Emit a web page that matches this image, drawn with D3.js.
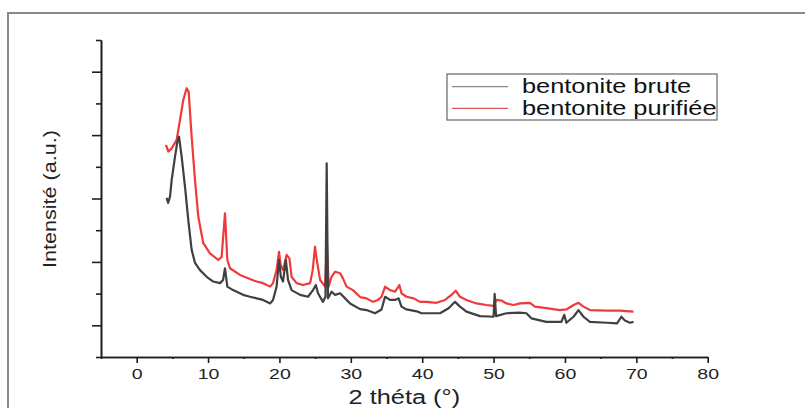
<!DOCTYPE html>
<html>
<head>
<meta charset="utf-8">
<script src="https://cdn.jsdelivr.net/npm/d3@7"></script>
<style>
  body { margin: 0; background: #fff; }
  svg { display: block; font-family: "Liberation Sans", Arial, sans-serif; }
</style>
</head>
<body>
<div id="chart"></div>
<script>
// values (2 theta in degrees, intensity in arbitrary units)
var bruteTheta = [4.2, 4.4, 4.67, 4.9, 5.37, 5.7, 5.93, 6.3, 6.77, 7.23, 7.7, 8.17, 8.87, 9.8, 10.73, 11.67, 12.1, 12.37, 12.7, 13.5, 14.9, 15.87, 16.8, 17.7, 18.7, 19.1, 19.6, 19.94, 20.2, 20.5, 20.9, 21.2, 21.7, 22.9, 24.0, 24.7, 25.1, 25.4, 26.1, 26.45, 26.62, 26.8, 27.3, 27.8, 28.5, 29.2, 29.9, 31.3, 32.2, 33.4, 34.3, 34.8, 35.5, 36.2, 36.7, 37.1, 37.8, 39.4, 39.9, 42.5, 43.7, 44.6, 45.3, 46.2, 48.1, 50.0, 50.15, 50.35, 51.8, 53.7, 54.6, 55.3, 57.4, 59.5, 59.9, 60.2, 61.2, 61.9, 62.6, 63.5, 65.9, 67.3, 67.9, 68.4, 69.1, 69.6]
var bruteInt = [502, 486, 506, 558, 632, 679, 695, 632, 537, 432, 338, 297, 274, 253, 238, 233, 243, 280, 222, 211, 196, 190, 185, 180, 169, 180, 222, 306, 253, 238, 306, 243, 211, 196, 190, 211, 227, 201, 174, 190, 611, 185, 206, 196, 201, 185, 169, 151, 148, 138, 150, 190, 180, 180, 185, 159, 150, 143, 138, 138, 154, 174, 159, 143, 129, 127, 199, 129, 138, 140, 138, 122, 111, 111, 133, 108, 127, 148, 127, 111, 108, 106, 127, 115, 108, 111]

var purTheta = [4.1, 4.43, 4.9, 5.6, 6.07, 6.53, 7.0, 7.28, 7.7, 8.17, 8.63, 9.33, 10.27, 11.43, 11.9, 12.37, 12.7, 13.07, 14.47, 15.87, 16.8, 17.7, 18.7, 19.1, 19.6, 19.94, 20.17, 20.5, 21.0, 21.4, 21.7, 22.4, 23.3, 24.3, 24.66, 24.98, 25.3, 25.7, 26.4, 26.65, 26.9, 27.3, 27.8, 28.5, 28.9, 29.4, 30.3, 31.3, 32.2, 33.1, 33.8, 34.3, 34.8, 35.5, 36.2, 36.8, 37.1, 37.8, 38.8, 39.7, 40.6, 42.0, 43.2, 44.1, 44.7, 45.3, 46.2, 47.6, 49.0, 50.0, 50.4, 51.1, 51.8, 52.8, 53.7, 55.1, 55.8, 57.4, 59.3, 60.2, 61.2, 61.9, 62.6, 63.5, 65.9, 67.7, 69.6]
var purInt = [669, 648, 658, 685, 748, 811, 848, 837, 695, 558, 443, 359, 327, 306, 316, 453, 306, 280, 259, 246, 238, 233, 222, 233, 274, 332, 290, 274, 322, 311, 253, 233, 227, 233, 274, 348, 296, 243, 222, 359, 222, 253, 269, 264, 248, 222, 211, 189, 185, 174, 180, 190, 222, 211, 206, 227, 201, 190, 185, 174, 174, 171, 180, 196, 209, 190, 180, 169, 164, 161, 180, 178, 169, 164, 169, 171, 159, 154, 148, 150, 164, 171, 159, 148, 146, 146, 143]

var xMajor = [0, 10, 20, 30, 40, 50, 60, 70, 80]
var xMinor = [-5, 5, 15, 25, 35, 45, 55, 65, 75]
var yMajor = [100, 300, 500, 700, 900]
var yMinor = [0, 200, 400, 600, 800, 1000]
var seriesNames = ['bentonite brute', 'bentonite purifiée']
var seriesColors = ['#404040', '#f03a3a']

var W = 805, H = 408
var stretchX = 1.3   // the picture is wider than tall, text is stretched sideways

var svg = d3.select('#chart').append('svg')
  .attr('width', W)
  .attr('height', H)

// outer frame (only top and left are in view)
svg.append('rect')
  .attr('x', 8).attr('y', 13)
  .attr('width', 900).attr('height', 500)
  .attr('fill', 'none')
  .attr('stroke', '#8a8a8a')
  .attr('stroke-width', 2)

var x = d3.scaleLinear().domain([-5, 80]).range([101, 707.7])
var y = d3.scaleLinear().domain([0, 1000]).range([357, 40])

function stretch(sel, k) {
  sel.each(function() {
    var w = this.getComputedTextLength()
    d3.select(this)
      .attr('textLength', w * k)
      .attr('lengthAdjust', 'spacingAndGlyphs')
  })
}

// x axis
var gx = svg.append('g').attr('transform', 'translate(0,357)')
gx.call(d3.axisBottom(x).tickValues(xMinor).tickSize(2).tickSizeOuter(0).tickFormat(''))
var gx2 = svg.append('g').attr('transform', 'translate(0,357)')
gx2.call(d3.axisBottom(x).tickValues(xMajor).tickSize(6).tickSizeOuter(0))
gx2.selectAll('text')
  .attr('y', 22).attr('dy', 0)
  .attr('fill', '#222')
  .style('font-size', '15px')
  .style('font-family', '"Liberation Sans", Arial, sans-serif')
  .call(stretch, stretchX)

// y axis
var gy = svg.append('g').attr('transform', 'translate(101,0)')
gy.call(d3.axisLeft(y).tickValues(yMinor).tickSize(5).tickSizeOuter(0).tickFormat(''))
var gy2 = svg.append('g').attr('transform', 'translate(101,0)')
gy2.call(d3.axisLeft(y).tickValues(yMajor).tickSize(9).tickSizeOuter(0).tickFormat(''))

svg.selectAll('.domain, .tick line')
  .attr('stroke', '#1e1e1e')
  .attr('stroke-width', 1.6)

// axis titles
svg.append('text')
  .attr('x', x(37.5)).attr('y', 404)
  .attr('text-anchor', 'middle')
  .attr('fill', '#222')
  .style('font-size', '19.5px')
  .text('2 théta (°)')
  .call(stretch, stretchX)

svg.append('text')
  .attr('transform', 'translate(56,199) rotate(-90)')
  .attr('text-anchor', 'middle')
  .attr('fill', '#222')
  .style('font-size', '19px')
  .attr('textLength', 138)
  .attr('lengthAdjust', 'spacingAndGlyphs')
  .text('Intensité (a.u.)')

// curves
var line = d3.line()
  .x(function(d) { return x(d[0]) })
  .y(function(d) { return y(d[1]) })

var series = [
  d3.zip(bruteTheta, bruteInt),
  d3.zip(purTheta, purInt)
]

// red drawn first, black on top like the original
svg.append('path')
  .datum(series[1])
  .attr('d', line)
  .attr('fill', 'none')
  .attr('stroke', seriesColors[1])
  .attr('stroke-width', 2.2)
  .attr('stroke-linejoin', 'round')

svg.append('path')
  .datum(series[0])
  .attr('d', line)
  .attr('fill', 'none')
  .attr('stroke', seriesColors[0])
  .attr('stroke-width', 2.2)
  .attr('stroke-linejoin', 'round')

// legend
var legend = svg.append('g').attr('transform', 'translate(447,74)')
legend.append('rect')
  .attr('width', 270).attr('height', 46)
  .attr('fill', '#fff')
  .attr('stroke', '#666')
  .attr('stroke-width', 1.2)

var legendLineColors = ['#8a8a8a', '#e05a5a']
var items = legend.selectAll('.legend')
  .data(seriesNames)
  .enter().append('g')
  .attr('class', 'legend')
  .attr('transform', function(d, i) { return 'translate(0,' + (12.7 + i * 21.6) + ')' })

items.append('line')
  .attr('x1', 5).attr('x2', 61)
  .attr('stroke', function(d, i) { return legendLineColors[i] })
  .attr('stroke-width', 1.2)

items.append('text')
  .attr('x', 75).attr('y', 6.6)
  .attr('fill', '#111')
  .style('font-size', '19.5px')
  .text(function(d) { return d })
  .call(stretch, stretchX)
</script>
</body>
</html>
